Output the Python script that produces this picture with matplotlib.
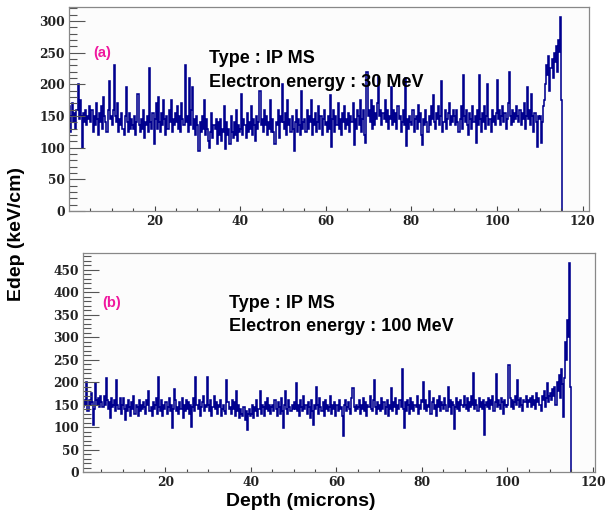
import numpy as np
import matplotlib.pyplot as plt

# bin width of the Edep histograms (microns)
bin_w = 0.25

# (a) Electron energy 30 MeV, Edep in keV/cm, 0.25 micron bins from 0
edep_30 = [
    165,125,150,170,140,155,130,160,200,145,175,150,100,155,140,160,135,150,145,165,
    140,160,125,150,135,170,145,120,155,140,165,130,180,150,140,125,160,205,145,150,
    135,160,230,150,140,170,125,145,135,155,130,120,150,195,140,125,155,130,145,135,
    130,150,120,140,185,135,125,145,130,160,115,140,135,150,125,225,140,130,155,105,
    145,170,130,180,140,125,155,135,175,145,120,150,130,160,140,175,125,145,135,155,
    140,165,130,150,125,170,145,135,230,140,150,125,210,135,160,195,130,145,120,150,
    135,95,140,125,150,130,175,120,145,130,110,100,125,155,115,135,130,145,105,140,
    120,145,110,130,125,165,98,140,120,130,105,150,125,115,140,120,160,110,135,125,
    130,185,120,145,135,115,155,125,140,130,165,120,145,135,110,150,130,140,190,135,
    145,125,160,135,150,120,140,130,175,125,145,125,105,140,135,160,115,150,140,200,
    140,130,155,120,175,135,145,125,150,130,95,140,160,125,145,135,120,190,130,140,
    145,125,160,130,150,140,175,120,145,135,155,125,140,165,130,150,120,145,160,135,
    140,125,150,130,183,101,145,160,125,150,135,170,130,145,120,155,140,165,130,145,
    135,155,125,150,140,170,104,145,130,160,150,135,175,125,145,160,120,107,220,150,
    160,140,175,130,165,135,155,145,170,212,150,160,135,155,145,175,140,160,130,150,
    145,196,135,160,140,155,130,165,145,150,125,140,160,135,210,103,145,130,150,140,
    135,160,125,145,150,130,167,140,155,120,104,145,135,160,140,125,150,135,165,145,
    183,140,130,155,145,165,135,150,205,125,140,160,130,145,155,170,135,150,140,160,
    150,135,160,140,125,145,165,130,215,150,140,160,135,120,155,145,130,165,140,150,
    107,160,135,215,145,125,155,140,165,130,150,200,135,145,125,160,140,150,135,155,
    207,145,160,135,150,165,140,155,130,145,170,220,150,135,160,140,155,145,165,150,
    140,160,135,155,145,170,130,150,196,145,160,135,185,150,125,155,140,101,150,145,
    150,107,140,165,175,200,230,215,245,190,225,240,210,250,235,260,220,270,251,306,
    175,
]

# (b) Electron energy 100 MeV
edep_100 = [
    100,155,170,145,160,150,201,135,160,150,175,155,105,140,197,160,150,165,145,170,
    155,145,170,150,208,160,140,155,120,165,145,150,160,135,205,150,140,165,130,150,
    165,140,115,150,135,160,145,125,155,140,170,130,150,145,125,160,135,150,140,155,
    145,130,160,150,180,135,145,125,155,140,150,165,130,212,145,135,160,125,150,140,
    155,130,145,165,135,150,97,140,185,160,135,145,130,155,140,165,120,150,135,160,
    140,155,130,150,101,145,165,135,212,150,140,160,125,145,155,170,135,150,145,212,
    150,135,160,125,145,170,140,155,130,150,145,160,125,140,150,135,130,205,155,140,
    145,130,160,140,155,125,180,135,150,120,140,130,125,145,115,135,94,130,140,125,
    130,150,120,145,135,160,125,140,180,130,150,145,125,155,140,165,135,150,130,145,
    150,135,160,140,125,155,145,130,165,135,97,150,180,140,130,160,145,135,150,140,
    155,140,198,135,150,125,160,145,135,170,140,150,130,155,145,120,160,135,105,150,
    140,188,150,130,165,145,135,155,125,160,140,150,135,145,170,130,150,140,155,125,
    150,135,160,140,145,125,80,150,160,135,145,155,140,130,165,187,145,135,150,140,
    145,160,130,150,140,165,135,155,125,150,145,170,140,135,160,205,145,130,155,140,
    150,135,165,140,155,130,145,160,125,150,140,187,135,155,145,165,130,150,140,160,
    145,230,140,97,155,135,160,150,130,165,140,155,135,150,145,170,130,150,140,160,
    155,201,140,160,135,150,145,180,130,155,165,140,150,125,160,145,170,135,155,150,
    140,165,150,135,190,145,160,130,155,150,95,145,165,140,155,135,160,150,145,170,
    150,140,165,135,155,145,170,150,220,140,160,150,135,165,145,155,140,160,83,150,
    155,145,165,140,160,150,170,135,155,218,145,160,150,140,165,155,130,160,150,145,
    150,238,165,145,160,140,155,170,150,205,160,145,165,150,135,160,155,170,145,160,
    155,165,145,170,150,160,140,175,155,165,150,135,170,160,180,145,165,198,155,170,
    175,160,185,170,190,150,200,180,215,165,230,195,123,210,289,250,337,300,464,190,
]

panels = [
    dict(vals=edep_30, label='(a)', energy='30 MeV',
         yticks=np.arange(0, 301, 50), ylim=(0, 322), xlim=(0, 121.5)),
    dict(vals=edep_100, label='(b)', energy='100 MeV',
         yticks=np.arange(0, 451, 50), ylim=(0, 487), xlim=(0.7, 120.5)),
]

W, H = 605, 518
fig = plt.figure(figsize=(W/100, H/100), dpi=100)

# axes boxes in pixels: left, top, right, bottom
boxes = [(69, 7, 589, 211), (83, 253, 595, 472)]
# text anchors in pixels: (label x, label baseline, title x, line1 baseline, line2 baseline)
txt = [(102, 57, 209, 63, 87), (112, 307, 229, 308, 331)]

tick_font = dict(family='DejaVu Serif', weight='bold', size=8.8)
line_col = '#00008e'

for p, (l, t, r, b), (lx, ly, tx, t1, t2) in zip(panels, boxes, txt):
    ax = fig.add_axes([l/W, 1-b/H, (r-l)/W, (b-t)/H])
    ax.set_facecolor('#fcfcfc')
    vals = np.array(p['vals'])
    edges = np.arange(len(vals)+1)*bin_w
    ax.stairs(vals, edges, baseline=0, color=line_col, lw=1.15)

    ax.set_xlim(*p['xlim'])
    ax.set_ylim(*p['ylim'])
    ax.set_xticks(np.arange(20, 121, 20))
    ax.set_xticks(np.arange(5, 121, 5), minor=True)
    ax.set_yticks(p['yticks'])
    ax.set_yticks(np.arange(0, p['ylim'][1], 10), minor=True)
    ax.tick_params(axis='x', which='major', direction='in', length=3.6, width=0.8, color='#444', pad=3)
    ax.tick_params(axis='x', which='minor', direction='in', length=2.0, width=0.8, color='#444')
    ax.tick_params(axis='y', which='major', direction='in', length=11.5, width=0.8, color='#555', pad=3)
    ax.tick_params(axis='y', which='minor', direction='in', length=5.8, width=0.8, color='#555')
    for lab in ax.get_xticklabels() + ax.get_yticklabels():
        lab.set_fontfamily(tick_font['family'])
        lab.set_fontweight(tick_font['weight'])
        lab.set_fontsize(tick_font['size'])
        lab.set_color('#222')
    for s in ax.spines.values():
        s.set_color('#888')
        s.set_linewidth(0.9)

    fig.text(lx/W, 1-ly/H, p['label'], color='#f0179f', fontsize=10.5,
             fontweight='bold', family='Liberation Sans', ha='center', va='baseline')
    fig.text(tx/W, 1-t1/H, 'Type : IP MS', fontsize=13, fontweight='bold',
             family='Liberation Sans', ha='left', va='baseline')
    fig.text(tx/W, 1-t2/H, 'Electron energy : ' + p['energy'], fontsize=13,
             fontweight='bold', family='Liberation Sans', ha='left', va='baseline')

fig.text(17/W, 1-234/H, 'Edep (keV/cm)', rotation=90, fontsize=14, fontweight='bold',
         family='Liberation Sans', ha='center', va='center')
fig.text(301/W, 1-501/H, 'Depth (microns)', fontsize=14, fontweight='bold',
         family='Liberation Sans', ha='center', va='center')

fig.savefig('out.png', dpi=100)
